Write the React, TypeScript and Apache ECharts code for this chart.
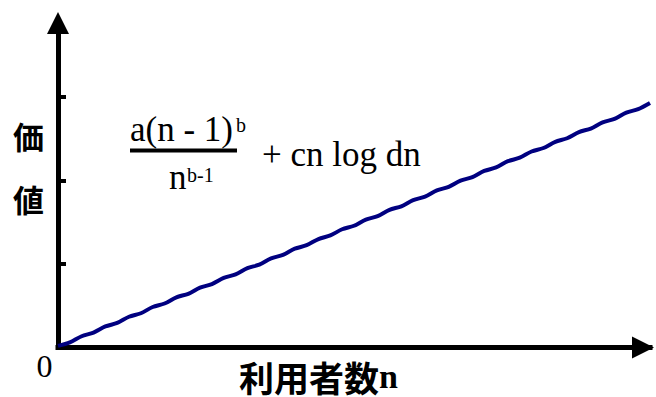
import React, { useEffect, useRef } from "react";
import * as echarts from "echarts";

// n (x) positions and the value curve
const nValues = [
  0, 2, 4, 6, 8, 10, 12, 14, 16, 18, 20, 22, 24, 26, 28, 30, 32, 34, 36, 38, 40,
  42, 44, 46, 48, 50, 52, 54, 56, 58, 60, 62, 64, 66, 68, 70, 72, 74, 76, 78, 80,
  82, 84, 86, 88, 90, 92, 94, 96, 98, 100,
];
const valueSeries = [
  0.019, 0.061, 0.135, 0.178, 0.252, 0.294, 0.368, 0.41, 0.485, 0.527, 0.601,
  0.643, 0.717, 0.76, 0.834, 0.876, 0.95, 0.992, 1.067, 1.109, 1.183, 1.225,
  1.299, 1.342, 1.416, 1.458, 1.532, 1.574, 1.649, 1.691, 1.765, 1.807, 1.881,
  1.924, 1.998, 2.04, 2.114, 2.156, 2.231, 2.273, 2.347, 2.389, 2.463, 2.506,
  2.58, 2.622, 2.696, 2.738, 2.813, 2.855, 2.929,
];
const yTickValues = [1, 2, 3];
const yAxisMax = 3.886;
const xAxisMax = 100;

const yLabelChars = ["価", "値"];
const xLabelText = "利用者数";
const xLabelVar = "n";
const originLabel = "0";
const numeratorText = "a(n - 1)";
const numeratorSup = "b";
const denominatorText = "n";
const denominatorSup = "b-1";
const tailText = "+ cn log dn";

const SERIF = '"Liberation Serif", "Times New Roman", serif';
const CJK = '"Noto Sans CJK JP", sans-serif';

export default function App() {
  const ref = useRef<HTMLDivElement>(null);
  useEffect(() => {
    if (!ref.current) return;
    const chart = echarts.init(ref.current, undefined, { renderer: "svg" });
    chart.setOption({
      animation: false,
      backgroundColor: "#ffffff",
      grid: { left: 58, right: 6, top: 23, bottom: 49.5, containLabel: false },
      xAxis: {
        type: "value",
        min: 0,
        max: xAxisMax,
        axisLine: {
          show: true,
          symbol: ["none", "triangle"],
          symbolSize: [22, 22],
          symbolOffset: [0, -7],
          lineStyle: { color: "#000", width: 5, cap: "square" },
        },
        axisTick: { show: false },
        axisLabel: { show: false },
        splitLine: { show: false },
      },
      yAxis: {
        type: "value",
        min: 0,
        max: yAxisMax,
        interval: 1,
        axisLine: {
          show: true,
          symbol: ["none", "triangle"],
          symbolSize: [22, 22],
          lineStyle: { color: "#000", width: 5, cap: "square" },
        },
        axisTick: {
          show: true,
          inside: true,
          length: 8,
          customValues: yTickValues,
          lineStyle: { color: "#000", width: 4 },
        },
        axisLabel: { show: false },
        splitLine: { show: false },
      },
      series: [
        {
          type: "line",
          data: nValues.map((n, i) => [n, valueSeries[i]]),
          showSymbol: false,
          smooth: 0.3,
          clip: false,
          z: 5,
          lineStyle: { color: "#000080", width: 4 },
        },
      ],
      graphic: [
        {
          type: "text",
          style: { text: yLabelChars[0], x: 28.5, y: 135, align: "center", verticalAlign: "middle", font: `bold 31px ${CJK}`, fill: "#000" },
        },
        {
          type: "text",
          style: { text: yLabelChars[1], x: 28.5, y: 198, align: "center", verticalAlign: "middle", font: `bold 31px ${CJK}`, fill: "#000" },
        },
        {
          type: "text",
          style: {
            text: `{a|${xLabelText}}{b|${xLabelVar}}`,
            x: 239,
            y: 376,
            align: "left",
            verticalAlign: "middle",
            rich: {
              a: { font: `bold 35px ${CJK}`, fill: "#000", lineHeight: 34 },
              b: { font: `bold 34px ${SERIF}`, fill: "#000", lineHeight: 34 },
            },
          },
        },
        {
          type: "text",
          style: { text: originLabel, x: 44.5, y: 366, align: "center", verticalAlign: "middle", font: `32px ${SERIF}`, fill: "#000" },
        },
        {
          type: "text",
          style: { text: numeratorText, x: 130, y: 129, align: "left", verticalAlign: "middle", font: `35px ${SERIF}`, fill: "#000" },
        },
        {
          type: "text",
          style: { text: numeratorSup, x: 236, y: 124.5, align: "left", verticalAlign: "middle", font: `20px ${SERIF}`, fill: "#000" },
        },
        {
          type: "line",
          shape: { x1: 130, y1: 150.5, x2: 237, y2: 150.5 },
          style: { stroke: "#000", lineWidth: 4 },
        },
        {
          type: "text",
          style: { text: denominatorText, x: 169, y: 177, align: "left", verticalAlign: "middle", font: `35px ${SERIF}`, fill: "#000" },
        },
        {
          type: "text",
          style: { text: denominatorSup, x: 187, y: 175, align: "left", verticalAlign: "middle", font: `20px ${SERIF}`, fill: "#000" },
        },
        {
          type: "text",
          style: { text: tailText, x: 262, y: 154, align: "left", verticalAlign: "middle", font: `35px ${SERIF}`, fill: "#000" },
        },
      ],
    });
    return () => chart.dispose();
  }, []);
  return (
    <div
      ref={ref}
      style={{ position: "fixed", left: 0, top: 0, width: 656, height: 397 }}
    />
  );
}
